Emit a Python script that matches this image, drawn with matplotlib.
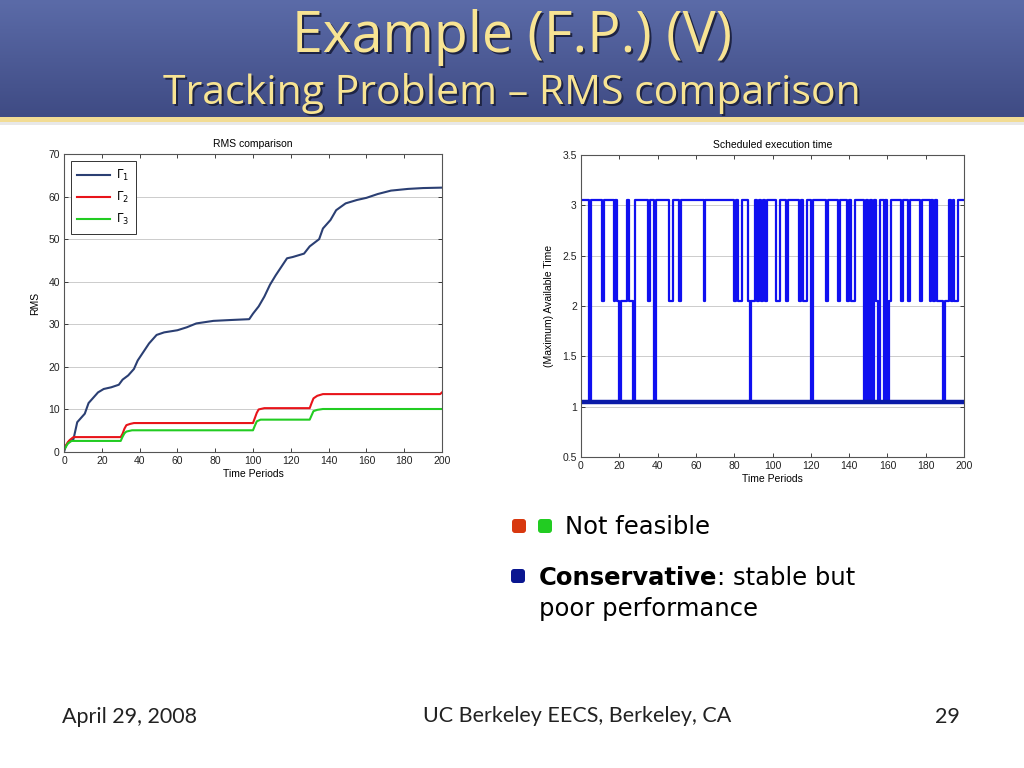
import numpy as np
import matplotlib
matplotlib.use("Agg")
import matplotlib.pyplot as plt
from matplotlib.patches import FancyBboxPatch, Rectangle
from matplotlib.ticker import FormatStrFormatter, MultipleLocator

# RMS comparison (left chart): key points
g1_t = [0, 1, 3, 5, 6, 7, 9, 11, 13, 15, 18, 21, 25, 29, 31, 34, 37, 39, 42, 45,
        49, 53, 60, 65, 70, 79, 88, 98, 100, 103, 106, 109, 112, 115, 118, 121,
        127, 130, 135, 137, 141, 144, 149, 155, 160, 166, 173, 182, 190, 200]
g1_v = [0, 1.5, 2.5, 3, 5, 7, 8, 9, 11.5, 12.5, 14, 14.8, 15.2, 15.8, 17, 18,
        19.5, 21.5, 23.5, 25.5, 27.5, 28.1, 28.6, 29.3, 30.2, 30.8, 31.0, 31.2,
        32.5, 34.2, 36.5, 39.3, 41.5, 43.5, 45.5, 45.8, 46.6, 48.3, 50.0, 52.5,
        54.5, 56.8, 58.4, 59.2, 59.7, 60.6, 61.4, 61.8, 62.0, 62.1]
g2_t = [0, 1, 2, 3, 5, 30, 31, 32, 33, 35, 37, 100, 101, 102, 103, 106, 130,
        131, 132, 134, 137, 199, 200]
g2_v = [0.5, 1.5, 2.3, 2.8, 3.5, 3.5, 4.3, 5.5, 6.3, 6.6, 6.8, 6.8, 8.0, 9.2,
        10.0, 10.3, 10.3, 11.5, 12.6, 13.2, 13.6, 13.6, 14.0]
g3_t = [0, 1, 2, 4, 30, 31, 32, 33, 36, 100, 101, 102, 104, 130, 131, 132, 134,
        137, 200]
g3_v = [0.5, 1.2, 2.0, 2.6, 2.6, 3.6, 4.4, 4.8, 5.1, 5.1, 6.2, 7.2, 7.6, 7.6,
        8.6, 9.6, 9.9, 10.1, 10.1]
legend_labels = [r"$\Gamma_1$", r"$\Gamma_2$", r"$\Gamma_3$"]

# Scheduled execution time (right chart): change points of the schedule
sched_t = [0, 4, 5, 11, 12, 17, 18, 19, 20, 21, 24, 25, 27, 28, 35, 36, 38, 39,
           46, 48, 51, 52, 64, 65, 80, 81, 82, 84, 87, 88, 89, 91, 92, 93, 94,
           95, 96, 97, 102, 104, 107, 108, 114, 115, 116, 118, 120, 121, 128,
           129, 134, 135, 139, 140, 141, 143, 148, 149, 150, 151, 152, 153, 154,
           155, 156, 158, 159, 160, 161, 162, 167, 168, 171, 172, 177, 178, 182,
           183, 184, 185, 186, 189, 190, 192, 193, 194, 195, 197]
sched_v = [3.05, 1.05, 3.05, 2.05, 3.05, 2.05, 3.05, 2.05, 1.05, 2.05, 3.05,
           2.05, 1.05, 3.05, 2.05, 3.05, 1.05, 3.05, 2.05, 3.05, 2.05, 3.05,
           2.05, 3.05, 2.05, 3.05, 2.05, 3.05, 2.05, 1.05, 2.05, 3.05, 2.05,
           3.05, 2.05, 3.05, 2.05, 3.05, 2.05, 3.05, 2.05, 3.05, 2.05, 3.05,
           2.05, 3.05, 1.05, 3.05, 2.05, 3.05, 2.05, 3.05, 2.05, 3.05, 2.05,
           3.05, 1.05, 3.05, 1.05, 3.05, 1.05, 3.05, 2.05, 1.05, 3.05, 1.05,
           3.05, 1.05, 2.05, 3.05, 2.05, 3.05, 2.05, 3.05, 2.05, 3.05, 2.05,
           3.05, 2.05, 3.05, 2.05, 1.05, 2.05, 3.05, 2.05, 3.05, 2.05, 3.05]
t_end = 200
cons_t = [0, 200]
cons_v = [1.05, 1.05]

W, H = 1024, 768
fig = plt.figure(figsize=(W / 100, H / 100), dpi=100)
fig.patch.set_facecolor("white")

# slide background in pixel coordinates
bg = fig.add_axes([0, 0, 1, 1], zorder=-1)
bg.set_xlim(0, W)
bg.set_ylim(H, 0)
bg.axis("off")
grad = np.linspace(0, 1, 120)[:, None]
top_c = np.array([0x5b, 0x6b, 0xa8]) / 255
bot_c = np.array([0x3f, 0x4b, 0x84]) / 255
band = top_c + (bot_c - top_c) * grad[..., None]
bg.imshow(np.repeat(band, 2, axis=1), extent=[0, W, 117, 0], aspect="auto")
bg.add_patch(Rectangle((0, 117), W, 5, color="#f2dc94", lw=0))
bg.add_patch(Rectangle((0, 122), W, 3, color="#e8e8e8", lw=0))

title = "Example (F.P.) (V)"
subtitle = "Tracking Problem \u2013 RMS comparison"
shadow = "#1e2444"
yellow = "#f8e493"
bg.text(W / 2 + 2, 38 + 2, title, fontsize=40, color=shadow, ha="center",
        va="center", family="Open Sans")
bg.text(W / 2, 38, title, fontsize=40, color=yellow, ha="center", va="center",
        family="Open Sans")
bg.text(W / 2 + 2, 93 + 2, subtitle, fontsize=29.5, color=shadow, ha="center",
        va="center", family="Open Sans")
bg.text(W / 2, 93, subtitle, fontsize=29.5, color=yellow, ha="center",
        va="center", family="Open Sans")

# bullets
bg.add_patch(FancyBboxPatch((512, 519), 14, 14, boxstyle="round,pad=0,rounding_size=3",
                            color="#d8380f", lw=0))
bg.add_patch(FancyBboxPatch((538, 519), 14, 14, boxstyle="round,pad=0,rounding_size=3",
                            color="#22cc22", lw=0))
bg.add_patch(FancyBboxPatch((511, 569), 14, 14, boxstyle="round,pad=0,rounding_size=3",
                            color="#0a1690", lw=0))
bullet_font = "DejaVu Sans"
bfs = 17.5
bg.text(565, 527, "Not feasible", fontsize=bfs, va="center", family=bullet_font)
cons = bg.text(539, 578, "Conservative", fontsize=bfs, va="center",
               weight="bold", family=bullet_font)
bg.annotate(": stable but", xy=(1, 0.5), xycoords=cons, va="center",
            fontsize=bfs, family=bullet_font)
bg.text(539, 609, "poor performance", fontsize=bfs, va="center", family=bullet_font)

# footer
foot_kw = dict(fontsize=15.5, va="center", family="Lato", style="normal",
               color="#222222")
bg.text(62, 717, "April 29, 2008", ha="left", **foot_kw)
bg.text(577, 716, "UC Berkeley EECS, Berkeley, CA", ha="center", **foot_kw)
bg.text(960, 717, "29", ha="right", **foot_kw)


def matlab_style(ax):
    for s in ax.spines.values():
        s.set_color("#555555")
        s.set_linewidth(0.8)
    ax.tick_params(direction="in", top=True, right=True, length=3, width=0.6,
                   labelsize=7.5, colors="#222222", pad=3)
    ax.yaxis.grid(True, color="#cccccc", lw=0.7)
    ax.set_axisbelow(True)


plt.rcParams["font.family"] = ["Liberation Sans", "DejaVu Sans"]

# left chart
ax1 = fig.add_axes([64 / W, 1 - 452 / H, 378 / W, 298 / H])
ax1.plot(g1_t, g1_v, color="#2b3f73", lw=1.5, label=legend_labels[0])
ax1.plot(g2_t, g2_v, color="#e8141a", lw=1.5, label=legend_labels[1])
ax1.plot(g3_t, g3_v, color="#22cc22", lw=1.5, label=legend_labels[2])
ax1.set_xlim(0, 200)
ax1.set_ylim(0, 70)
ax1.xaxis.set_major_locator(MultipleLocator(20))
ax1.yaxis.set_major_locator(MultipleLocator(10))
matlab_style(ax1)
ax1.set_title("RMS comparison", fontsize=7.5, pad=5)
ax1.set_xlabel("Time Periods", fontsize=7.5, labelpad=2)
ax1.set_ylabel("RMS", fontsize=7.5, labelpad=6)
leg = ax1.legend(loc="upper left", fontsize=8.5, fancybox=False, framealpha=1,
                 edgecolor="#333333", handlelength=2.8, handletextpad=0.5,
                 borderpad=0.55, labelspacing=0.6, borderaxespad=0,
                 bbox_to_anchor=(0.018, 0.975))
leg.get_frame().set_linewidth(0.7)

# right chart
ax2 = fig.add_axes([581 / W, 1 - 457 / H, 383 / W, 302 / H])
ax2.step(sched_t + [t_end], sched_v + [sched_v[-1]], where="post",
         color="#1010f0", lw=1.6)
ax2.plot(cons_t, cons_v, color="#0a1aa8", lw=3.2)
ax2.set_xlim(0, 200)
ax2.set_ylim(0.5, 3.5)
ax2.xaxis.set_major_locator(MultipleLocator(20))
ax2.yaxis.set_major_locator(MultipleLocator(0.5))
ax2.yaxis.set_major_formatter(FormatStrFormatter("%g"))
matlab_style(ax2)
ax2.set_title("Scheduled execution time", fontsize=7.5, pad=5)
ax2.set_xlabel("Time Periods", fontsize=7.5, labelpad=2)
ax2.set_ylabel("(Maximum) Available Time", fontsize=7.5, labelpad=6)

fig.savefig("out.png", dpi=100)
